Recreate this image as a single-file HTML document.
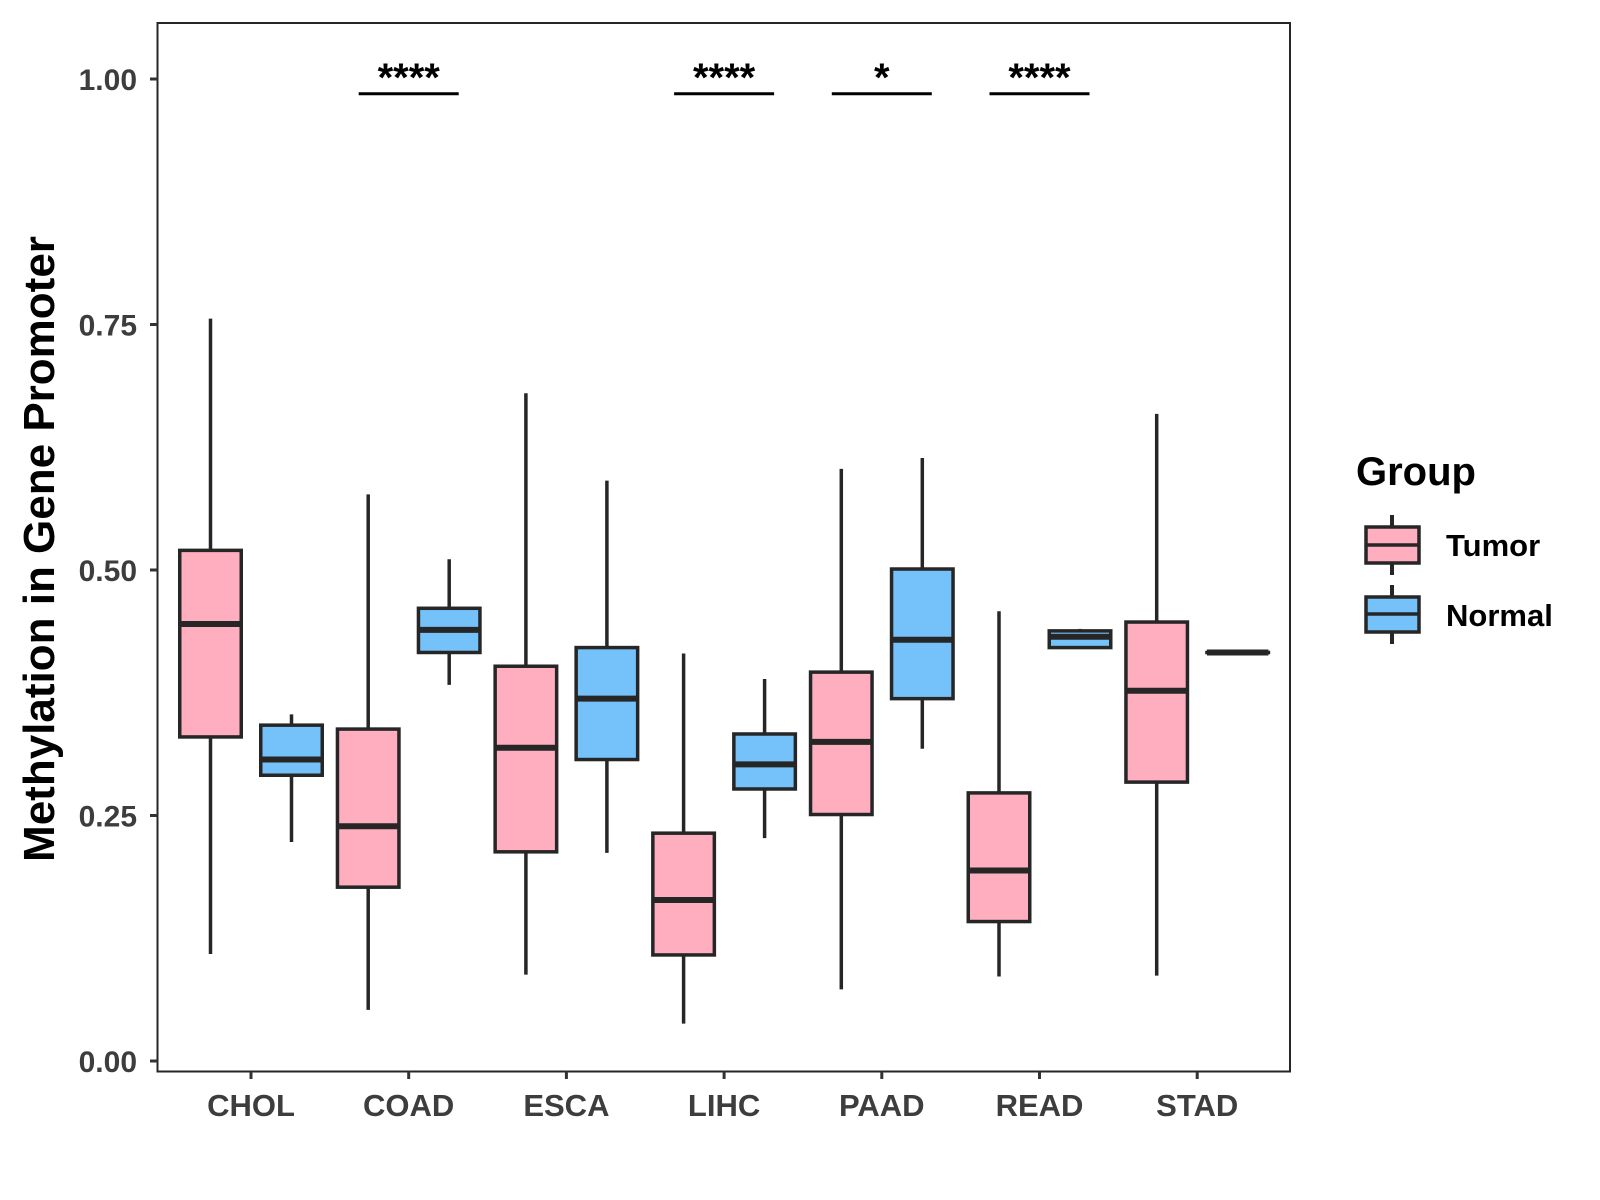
<!DOCTYPE html>
<html><head><meta charset="utf-8"><style>body{margin:0;background:#fff}svg{display:block}text{font-family:"Liberation Sans",Arial,sans-serif;font-weight:bold}</style></head>
<body>
<svg id="chart" width="1600" height="1200" viewBox="0 0 1600 1200">
<rect x="157.5" y="23" width="1132.5" height="1048.5" fill="#fff" stroke="#262626" stroke-width="2"/>
<g id="axes"></g><g id="boxes"></g><g id="sig"></g>
<text transform="translate(54,549) rotate(-90)" text-anchor="middle" font-size="44" fill="#000">Methylation in Gene Promoter</text>
<g transform="translate(-7,0)">
<text x="1363" y="485" font-size="40" fill="#000">Group</text>
<g>
<line x1="1399" y1="515" x2="1399" y2="575" stroke="#262626" stroke-width="4"/>
<rect x="1373" y="527" width="53" height="36" fill="#FFAEC0" stroke="#262626" stroke-width="3.5"/>
<line x1="1373" y1="545" x2="1426" y2="545" stroke="#262626" stroke-width="3.5"/>
<text x="1453" y="556" font-size="31" fill="#000">Tumor</text></g>
<g>
<line x1="1399" y1="585" x2="1399" y2="644" stroke="#262626" stroke-width="4"/>
<rect x="1373" y="597" width="53" height="35" fill="#75C2FA" stroke="#262626" stroke-width="3.5"/>
<line x1="1373" y1="614" x2="1426" y2="614" stroke="#262626" stroke-width="3.5"/>
<text x="1453" y="626" font-size="31" fill="#000">Normal</text></g>
</g>
</svg>
<script>
const categories=["CHOL","COAD","ESCA","LIHC","PAAD","READ","STAD"];
// [lowWhisker, Q1, median, Q3, highWhisker]
const tumorStats=[[0.109,0.33,0.445,0.52,0.756],[0.052,0.177,0.239,0.338,0.577],[0.088,0.213,0.319,0.402,0.68],[0.038,0.108,0.164,0.232,0.415],[0.073,0.251,0.325,0.396,0.603],[0.086,0.142,0.194,0.273,0.458],[0.087,0.284,0.377,0.447,0.659]];
const normalStats=[[0.223,0.291,0.307,0.342,0.353],[0.383,0.416,0.439,0.461,0.511],[0.212,0.307,0.369,0.421,0.591],[0.227,0.277,0.302,0.333,0.389],[0.318,0.369,0.429,0.501,0.614],[0.421,0.421,0.432,0.438,0.44],[0.416,0.416,0.416,0.416,0.416]];
const yTicks=[0,0.25,0.5,0.75,1];
const yTickLabels=["0.00","0.25","0.50","0.75","1.00"];
const sigCategories=["COAD","LIHC","PAAD","READ"];
const sigLabels=["****","****","*","****"];
const sigLevel=0.987;

const NS="http://www.w3.org/2000/svg";
const y=v=>1061-v*982;
const x=i=>251+157.7*i;
function mk(tag,at,parent,txt){const e=document.createElementNS(NS,tag);for(const k in at)e.setAttribute(k,at[k]);if(txt!==undefined)e.textContent=txt;parent.appendChild(e);return e;}
const axes=document.getElementById('axes'),boxes=document.getElementById('boxes'),sig=document.getElementById('sig');
yTicks.forEach((t,i)=>{
  const l=mk('line',{x1:150,x2:157.5,y1:y(t),y2:y(t),stroke:'#333','stroke-width':3},axes);
  
  
  const tx=mk('text',{x:137,y:y(t)+11,'text-anchor':'end','font-size':30,fill:'#3d3d3d'},axes,yTickLabels[i]);
  
  
});
categories.forEach((c,i)=>{
  const l=mk('line',{x1:x(i),x2:x(i),y1:1071.5,y2:1079,stroke:'#333','stroke-width':3},axes);
  
  
  const tx=mk('text',{x:x(i),y:1116,'text-anchor':'middle','font-size':31,fill:'#3d3d3d'},axes,c);
  
  
});
function drawBox(s,cx,fill,name){
  const g=mk('g',{},boxes);
  
  
  const w=61.5;
  mk('line',{x1:cx,x2:cx,y1:y(s[4]),y2:y(s[0]),stroke:'#262626','stroke-width':3.5},g);
  mk('rect',{x:cx-w/2,y:y(s[3]),width:w,height:Math.max(y(s[1])-y(s[3]),0.01),fill:fill,stroke:'#262626','stroke-width':3.5},g);
  mk('line',{x1:cx-w/2,x2:cx+w/2,y1:y(s[2]),y2:y(s[2]),stroke:'#262626','stroke-width':6},g);
}
categories.forEach((c,i)=>{
  drawBox(tumorStats[i],x(i)-40.5,'#FFAEC0','box-tumor-'+c.toLowerCase());
  drawBox(normalStats[i],x(i)+40.5,'#75C2FA','box-normal-'+c.toLowerCase());
});
sigCategories.forEach((c,k)=>{
  const i=categories.indexOf(c);
  const l=mk('line',{x1:x(i)-50,x2:x(i)+50,y1:y(sigLevel)+2,y2:y(sigLevel)+2,stroke:'#000','stroke-width':3},sig);
  
  
  const t=mk('text',{x:x(i),y:y(sigLevel)-1,'text-anchor':'middle','font-size':40,fill:'#000'},sig,sigLabels[k]);
  
  
});
</script>
</body></html>
